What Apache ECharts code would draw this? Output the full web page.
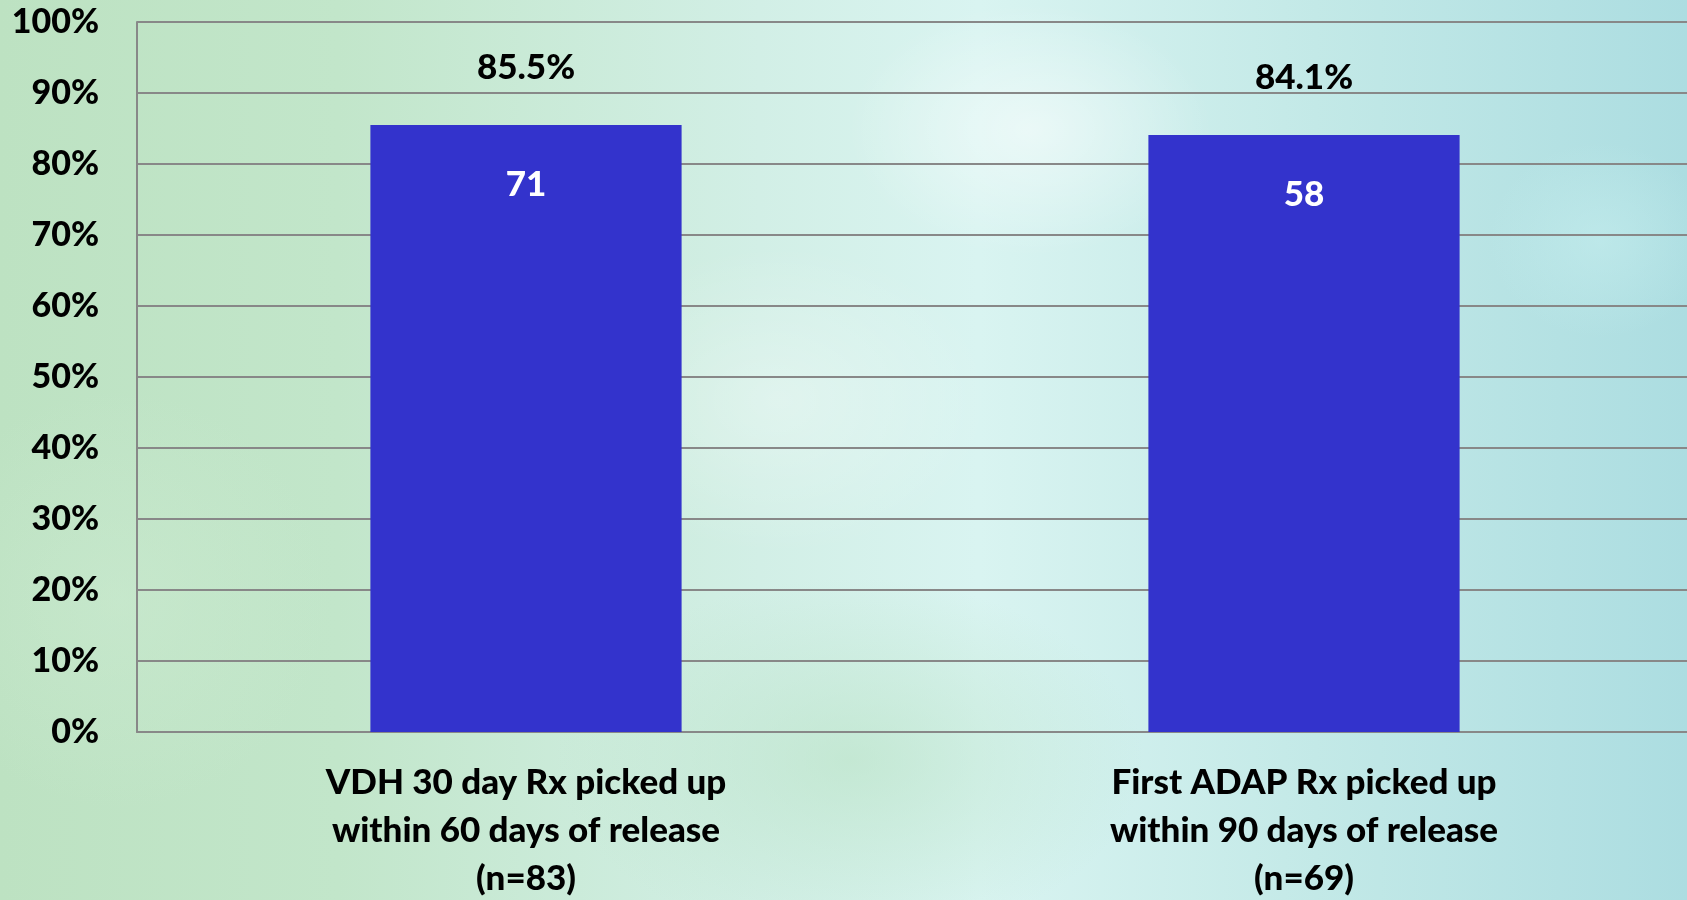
<!DOCTYPE html>
<html><head><meta charset="utf-8">
<script src="https://cdn.jsdelivr.net/npm/echarts@6/dist/echarts.min.js"></script>
<style>
html,body{margin:0;padding:0;width:1687px;height:900px;overflow:hidden;}
body{
background:
radial-gradient(ellipse 260px 180px at 1030px 130px, rgba(255,255,255,0.5), rgba(255,255,255,0) 70%),
radial-gradient(ellipse 300px 220px at 780px 400px, rgba(255,255,255,0.3), rgba(255,255,255,0) 70%),
radial-gradient(ellipse 160px 140px at 1600px 240px, rgba(200,240,240,0.5), rgba(200,240,240,0) 70%),
radial-gradient(ellipse 420px 260px at 850px 760px, rgba(185,226,196,0.6), rgba(185,226,196,0) 70%),
radial-gradient(ellipse 300px 300px at 120px 600px, rgba(205,235,210,0.5), rgba(205,235,210,0) 70%),
linear-gradient(90deg, #bde2c2 0%, #c2e6ca 20%, #d2efe6 45%, #d9f4f1 58%, #c3e9e7 78%, #acdde1 100%);
}
#c{width:1687px;height:900px;}
</style></head>
<body><div id="c"></div>
<script>
const categories = ['VDH 30 day Rx picked up\nwithin 60 days of release\n(n=83)', 'First ADAP Rx picked up\nwithin 90 days of release\n(n=69)'];
const percentValues = [85.5, 84.1];
const countValues = [71, 58];
const yTicks = [0, 10, 20, 30, 40, 50, 60, 70, 80, 90, 100];

const font = 'Lato';
const chart = echarts.init(document.getElementById('c'), null, {renderer: 'canvas'});
chart.setOption({
  backgroundColor: 'transparent',
  animation: false,
  grid: {left: 137, right: -6, top: 22, bottom: 168, containLabel: false, outerBoundsMode: 'none'},
  xAxis: {
    type: 'category', data: categories,
    axisLine: {lineStyle: {color: '#888', width: 2}},
    axisTick: {show: false},
    axisLabel: {fontFamily: font, fontWeight: 900, fontSize: 35, color: '#000', lineHeight: 48, margin: 27, interval: 0}
  },
  yAxis: {
    type: 'value', min: yTicks[0], max: yTicks[yTicks.length - 1], interval: 10,
    axisLine: {show: true, lineStyle: {color: '#888', width: 2}},
    axisTick: {show: false},
    splitLine: {lineStyle: {color: '#888', width: 2}},
    axisLabel: {formatter: v => v + '%', fontFamily: font, fontWeight: 900, fontSize: 34, color: '#000', margin: 38}
  },
  series: [
    {
      type: 'bar', data: percentValues, barWidth: '40%',
      itemStyle: {color: '#3333cc'},
      label: {show: true, position: 'insideTop', distance: 42, formatter: p => countValues[p.dataIndex],
        fontFamily: font, fontWeight: 900, fontSize: 35, color: '#fff'}
    },
    {
      type: 'bar', data: percentValues, barWidth: '40%', barGap: '-100%',
      itemStyle: {color: 'rgba(0,0,0,0)'}, silent: true,
      label: {show: true, position: 'top', distance: 40, formatter: p => p.value.toFixed(1) + '%',
        fontFamily: font, fontWeight: 900, fontSize: 35, color: '#000'}
    }
  ]
});
</script></body></html>
